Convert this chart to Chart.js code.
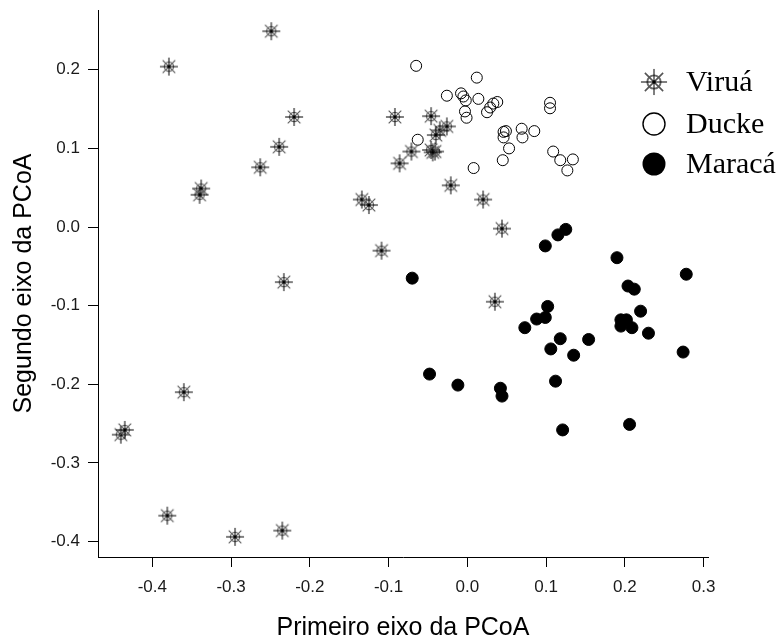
<!DOCTYPE html>
<html>
<head>
<meta charset="utf-8">
<script src="https://cdn.jsdelivr.net/npm/chart.js@4.4.1/dist/chart.umd.min.js"></script>
<style>
  html, body { margin: 0; padding: 0; background: #fff; }
  #wrap { width: 782px; height: 644px; }
</style>
</head>
<body>
<div id="wrap"><canvas id="pcoa"></canvas></div>
<script>
// PCoA scores
const viruaX = [-0.249, -0.379, -0.220, -0.239, -0.263, -0.338, -0.340, -0.233, -0.360, -0.440,
                -0.435, -0.381, -0.295, -0.235, -0.092, -0.046, -0.026, -0.035, -0.040, -0.041,
                -0.046, -0.044, -0.071, -0.086, -0.021, 0.020, -0.134, -0.125, 0.044, -0.109, 0.035];
const viruaY = [0.249, 0.204, 0.140, 0.102, 0.076, 0.049, 0.041, -0.070, -0.210, -0.264,
                -0.258, -0.367, -0.394, -0.386, 0.140, 0.141, 0.128, 0.123, 0.117, 0.096,
                0.098, 0.095, 0.096, 0.081, 0.053, 0.035, 0.035, 0.028, -0.002, -0.030, -0.095];

const duckeX = [-0.065, 0.012, -0.026, -0.008, -0.005, -0.002, 0.014, -0.003, -0.001, 0.025,
                0.029, 0.033, 0.038, 0.105, 0.105, -0.063, 0.046, 0.049, 0.046, 0.069,
                0.070, 0.085, 0.053, 0.045, 0.008, 0.109, 0.118, 0.134, 0.127];
const duckeY = [0.205, 0.190, 0.167, 0.170, 0.166, 0.161, 0.163, 0.147, 0.139, 0.146,
                0.152, 0.157, 0.159, 0.158, 0.151, 0.111, 0.121, 0.122, 0.114, 0.125,
                0.114, 0.122, 0.100, 0.085, 0.075, 0.096, 0.085, 0.086, 0.072];

const maracaX = [-0.070, 0.099, 0.115, 0.125, 0.190, 0.278, 0.204, 0.212, 0.220, 0.102,
                 0.088, 0.099, 0.073, 0.195, 0.202, 0.195, 0.209, 0.230, 0.118, 0.154,
                 0.106, 0.135, 0.274, -0.048, -0.012, 0.042, 0.044, 0.112, 0.121, 0.206];
const maracaY = [-0.065, -0.024, -0.010, -0.003, -0.039, -0.060, -0.075, -0.079, -0.107, -0.101,
                 -0.117, -0.115, -0.128, -0.118, -0.118, -0.126, -0.128, -0.135, -0.142, -0.143,
                 -0.155, -0.163, -0.159, -0.187, -0.201, -0.205, -0.215, -0.196, -0.258, -0.251];

const xTicks = [-0.4, -0.3, -0.2, -0.1, 0.0, 0.1, 0.2, 0.3];
const yTicks = [-0.4, -0.3, -0.2, -0.1, 0.0, 0.1, 0.2];
const groups = ['Viruá', 'Ducke', 'Maracá'];

// asterisk-like marker: grey ring and cross, black plus
function drawStar(c, cx, cy, s) {
    c.save();
    c.lineWidth = 1.3 * s;
    c.strokeStyle = '#6a6a6a';
    c.beginPath();
    c.arc(cx, cy, 4.6 * s, 0, Math.PI * 2);
    c.stroke();
    const d = 6.3 * s;
    c.lineWidth = 1.1 * s;
    c.strokeStyle = '#555';
    c.beginPath();
    c.moveTo(cx - d, cy - d); c.lineTo(cx + d, cy + d);
    c.moveTo(cx - d, cy + d); c.lineTo(cx + d, cy - d);
    c.stroke();
    c.lineWidth = 1;
    c.strokeStyle = '#000';
    const p = 9 * s;
    c.beginPath();
    c.moveTo(cx - p, cy); c.lineTo(cx + p, cy);
    c.moveTo(cx, cy - p); c.lineTo(cx, cy + p);
    c.stroke();
    c.fillStyle = '#000';
    c.fillRect(cx - 1.5, cy - 1.5, 3, 3);
    c.restore();
}

const starImg = document.createElement('canvas');
starImg.width = 20;
starImg.height = 20;
drawStar(starImg.getContext('2d'), 10, 10, 1);

function toPoints(xs, ys) {
    return xs.map((x, i) => ({ x: x, y: ys[i] }));
}

// legend in the upper right corner, drawn like the R legend()
const legendPlugin = {
    id: 'rLegend',
    afterDraw(chart) {
        const c = chart.ctx;
        const x0 = 654, ys = [82, 124, 164];
        c.save();
        c.filter = 'blur(0.7px)';
        drawStar(c, x0, ys[0], 1.45);
        c.filter = 'none';
        c.lineWidth = 1.4;
        c.strokeStyle = '#000';
        c.beginPath();
        c.arc(x0, ys[1], 11, 0, Math.PI * 2);
        c.stroke();
        c.fillStyle = '#000';
        c.beginPath();
        c.arc(x0, ys[2], 11.5, 0, Math.PI * 2);
        c.fill();
        c.font = '30px "Liberation Serif", "Times New Roman", serif';
        c.textBaseline = 'middle';
        c.textAlign = 'left';
        groups.forEach((g, i) => c.fillText(g, 686, ys[i] + 1));
        c.restore();
    }
};

const tickFont = { family: '"Liberation Sans", Arial, sans-serif', size: 17 };
const titleFont = { family: '"Liberation Sans", Arial, sans-serif', size: 25 };

new Chart(document.getElementById('pcoa'), {
    type: 'scatter',
    data: {
        datasets: [
            {
                label: groups[0],
                data: toPoints(viruaX, viruaY),
                pointStyle: starImg,
                pointRadius: 9,
                pointHoverRadius: 9
            },
            {
                label: groups[1],
                data: toPoints(duckeX, duckeY),
                pointStyle: 'circle',
                pointRadius: 5.5,
                pointHoverRadius: 5.5,
                backgroundColor: 'rgba(0,0,0,0)',
                borderColor: '#000',
                borderWidth: 1
            },
            {
                label: groups[2],
                data: toPoints(maracaX, maracaY),
                pointStyle: 'circle',
                pointRadius: 6,
                pointHoverRadius: 6,
                backgroundColor: '#000',
                borderColor: '#000',
                borderWidth: 1
            }
        ]
    },
    options: {
        responsive: true,
        maintainAspectRatio: false,
        animation: false,
        layout: { padding: { left: 0, top: 10, right: 74, bottom: 0 } },
        plugins: {
            legend: { display: false },
            tooltip: { enabled: false }
        },
        scales: {
            x: {
                type: 'linear',
                min: -0.469,
                max: 0.3056,
                afterBuildTicks: (scale) => { scale.ticks = xTicks.map(v => ({ value: v })); },
                afterFit: (scale) => {
                    scale.height = 87;
                    scale.paddingLeft = 0;
                    scale.paddingRight = 0;
                },
                ticks: {
                    color: '#1a1a1a',
                    font: tickFont,
                    padding: 10,
                    maxRotation: 0,
                    callback: (v) => v.toFixed(1)
                },
                grid: { drawOnChartArea: false, drawTicks: true, tickLength: 10, color: '#000' },
                border: { display: true, color: '#000', width: 1 },
                title: {
                    display: true,
                    text: 'Primeiro eixo da PCoA',
                    color: '#000',
                    font: titleFont,
                    padding: { top: 0, bottom: 1 }
                }
            },
            y: {
                type: 'linear',
                min: -0.4196,
                max: 0.276,
                afterBuildTicks: (scale) => { scale.ticks = yTicks.map(v => ({ value: v })); },
                afterFit: (scale) => {
                    scale.width = 98;
                    scale.paddingTop = 0;
                    scale.paddingBottom = 0;
                },
                ticks: {
                    color: '#1a1a1a',
                    font: tickFont,
                    padding: 8,
                    callback: (v) => v.toFixed(1)
                },
                grid: { drawOnChartArea: false, drawTicks: true, tickLength: 10, color: '#000' },
                border: { display: true, color: '#000', width: 1 },
                title: {
                    display: true,
                    text: 'Segundo eixo da PCoA',
                    color: '#000',
                    font: titleFont,
                    padding: { top: 9, bottom: 0 }
                }
            }
        }
    },
    plugins: [legendPlugin]
});
</script>
</body>
</html>
